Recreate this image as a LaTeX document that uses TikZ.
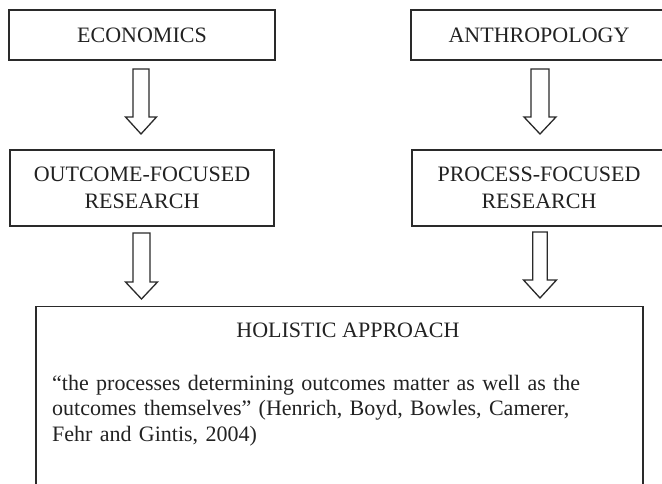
\documentclass[tikz,border=0pt]{standalone}
\usepackage{fontspec}
\setmainfont{Liberation Serif}
\usetikzlibrary{calc}
\definecolor{ink}{HTML}{222222}
\definecolor{edge}{HTML}{2A2A2A}
\tikzset{
  boxnode/.style={draw=edge, line width=1.3pt, inner sep=0pt, align=center, text=ink,
    font=\fontsize{22}{27}\selectfont},
  plaintext/.style={inner sep=0pt, text=ink, font=\fontsize{22}{25.5}\selectfont\frenchspacing},
  arrowline/.style={draw=edge, line width=1.3pt, fill=white, line join=miter}
}
\newcommand\blockarrow[6]{%
  \draw[arrowline] (#1-#5,#2) -- (#1+#5,#2) -- (#1+#5,#3) -- (#1+#6,#3) -- (#1,#4)
    -- (#1-#6,#3) -- (#1-#5,#3) -- cycle;}
\begin{document}
\begin{tikzpicture}[x=1pt,y=-1pt]
\useasboundingbox (0,0) rectangle (662,484);
\clip (0,0) rectangle (662,484);
% top row
\node[boxnode, minimum width=266pt, minimum height=50pt] (eco) at (142,35) {ECONOMICS};
\node[boxnode, minimum width=256pt, minimum height=50pt] (anth) at (539,35) {ANTHROPOLOGY};
% second row
\node[boxnode, minimum width=264pt, minimum height=76pt] (outc) at (142,188) {OUTCOME-FOCUSED\\RESEARCH};
\node[boxnode, minimum width=254pt, minimum height=76pt] (proc) at (539,188) {PROCESS-FOCUSED\\RESEARCH};
% holistic box (bottom cut off by the picture edge)
\node[boxnode, anchor=north, minimum width=607pt, minimum height=250pt] (hol) at (339.5,306) {};
\node[plaintext, anchor=base] (holt) at (348,337) {HOLISTIC APPROACH};
\node[plaintext, anchor=base west, text width=590pt, align=left] (quote) at (52,390)
  {``the processes determining outcomes matter as well as the\\
   outcomes themselves'' (Henrich, Boyd, Bowles, Camerer,\\
   Fehr and Gintis, 2004)};
% block arrows
\blockarrow{141}{69}{117}{134}{8}{15.5}
\blockarrow{540}{69}{117}{134}{9}{16}
\blockarrow{141.5}{233}{282}{299}{8.5}{16}
\blockarrow{540}{232}{280}{298}{7.3}{16.5}
\end{tikzpicture}
\end{document}
